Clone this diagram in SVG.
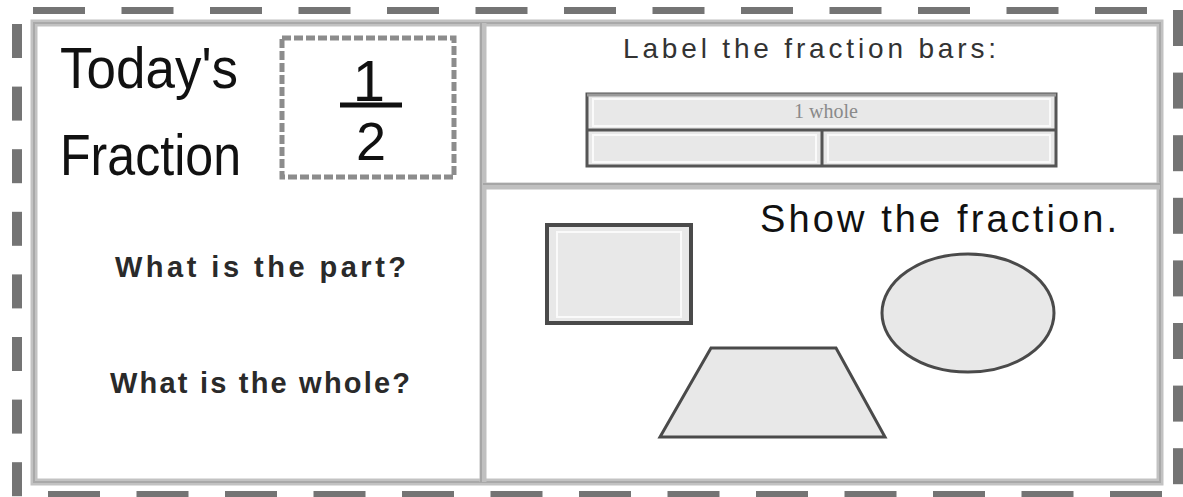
<svg xmlns="http://www.w3.org/2000/svg" width="1183" height="497" viewBox="0 0 1183 497">
<style>
.dash{fill:#747474}
.frame{fill:none;stroke:#c2c2c2;stroke-width:7}
.frameIn{fill:none;stroke:#a9a9a9;stroke-width:2}
.div{stroke:#c0c0c0;stroke-width:7}
.divIn{stroke:#a6a6a6;stroke-width:2}
.hand{font-family:"Liberation Sans","DejaVu Sans",sans-serif;fill:#111}
.q{font-family:"Liberation Sans","DejaVu Sans",sans-serif;fill:#2a2a2a;font-size:29px;font-weight:bold}
.shape{fill:#e8e8e8;stroke:#4a4a4a}
.inset{fill:none;stroke:#fafafa;stroke-width:2}
</style>
<rect width="1183" height="497" fill="#ffffff"/>
<g id="border-dashes">
<rect class="dash" x="33" y="7" width="52" height="7"/>
<rect class="dash" x="121.5" y="7" width="52" height="7"/>
<rect class="dash" x="210" y="7" width="52" height="7"/>
<rect class="dash" x="298.5" y="7" width="52" height="7"/>
<rect class="dash" x="387" y="7" width="52" height="7"/>
<rect class="dash" x="475.5" y="7" width="52" height="7"/>
<rect class="dash" x="564" y="7" width="52" height="7"/>
<rect class="dash" x="652.5" y="7" width="52" height="7"/>
<rect class="dash" x="741" y="7" width="52" height="7"/>
<rect class="dash" x="829.5" y="7" width="52" height="7"/>
<rect class="dash" x="918" y="7" width="52" height="7"/>
<rect class="dash" x="1006.5" y="7" width="52" height="7"/>
<rect class="dash" x="1095" y="7" width="52" height="7"/>
<rect class="dash" x="48" y="491" width="52" height="7"/>
<rect class="dash" x="136.5" y="491" width="52" height="7"/>
<rect class="dash" x="225" y="491" width="52" height="7"/>
<rect class="dash" x="313.5" y="491" width="52" height="7"/>
<rect class="dash" x="402" y="491" width="52" height="7"/>
<rect class="dash" x="490.5" y="491" width="52" height="7"/>
<rect class="dash" x="579" y="491" width="52" height="7"/>
<rect class="dash" x="667.5" y="491" width="52" height="7"/>
<rect class="dash" x="756" y="491" width="52" height="7"/>
<rect class="dash" x="844.5" y="491" width="52" height="7"/>
<rect class="dash" x="933" y="491" width="52" height="7"/>
<rect class="dash" x="1021.5" y="491" width="52" height="7"/>
<rect class="dash" x="1110" y="491" width="52" height="7"/>
<rect class="dash" x="12" y="24" width="10" height="34"/>
<rect class="dash" x="12" y="86.6" width="10" height="34"/>
<rect class="dash" x="12" y="149.2" width="10" height="34"/>
<rect class="dash" x="12" y="211.8" width="10" height="34"/>
<rect class="dash" x="12" y="274.4" width="10" height="34"/>
<rect class="dash" x="12" y="337" width="10" height="34"/>
<rect class="dash" x="12" y="399.6" width="10" height="34"/>
<rect class="dash" x="12" y="462.2" width="10" height="34"/>
<rect class="dash" x="1173" y="10" width="10" height="36"/>
<rect class="dash" x="1173" y="72.6" width="10" height="36"/>
<rect class="dash" x="1173" y="135.2" width="10" height="36"/>
<rect class="dash" x="1173" y="197.8" width="10" height="36"/>
<rect class="dash" x="1173" y="260.4" width="10" height="36"/>
<rect class="dash" x="1173" y="323" width="10" height="36"/>
<rect class="dash" x="1173" y="385.6" width="10" height="36"/>
<rect class="dash" x="1173" y="448.2" width="10" height="36"/>
</g>
<g id="frame">
<rect class="frame" x="34" y="23" width="1126" height="459"/>
<rect class="frameIn" x="34" y="23" width="1126" height="459"/>
<line class="div" x1="483" y1="23" x2="483" y2="482"/>
<line class="divIn" x1="481" y1="23" x2="481" y2="482"/>
<line class="div" x1="483" y1="186" x2="1160" y2="186"/>
<line class="divIn" x1="483" y1="184" x2="1160" y2="184"/>
</g>
<g id="title">
<text class="hand" x="60" y="88" font-size="58" textLength="178" lengthAdjust="spacingAndGlyphs">Today's</text>
<text class="hand" x="60" y="175" font-size="58" textLength="181" lengthAdjust="spacingAndGlyphs">Fraction</text>
</g>
<g id="fraction-box">
<rect x="282" y="38" width="172" height="139" fill="#ffffff" stroke="#8c8c8c" stroke-width="5" stroke-dasharray="9 3"/>
<text class="hand" x="369" y="101" font-size="58" text-anchor="middle">1</text>
<line x1="340" y1="105" x2="402" y2="105" stroke="#111" stroke-width="5"/>
<text class="hand" x="371" y="160" font-size="54" text-anchor="middle">2</text>
</g>
<g id="questions">
<text class="q" x="115" y="277" textLength="291">What is the part?</text>
<text class="q" x="110" y="393" textLength="300">What is the whole?</text>
</g>
<g id="label-bars">
<text x="623" y="58" font-family="'Liberation Sans','DejaVu Sans',sans-serif" font-size="28" fill="#333" textLength="373">Label the fraction bars:</text>
<rect x="587" y="94" width="469" height="72" fill="#e8e8e8"/>
<rect class="inset" x="593" y="99" width="457" height="27"/>
<rect class="inset" x="593" y="135" width="223" height="27"/>
<rect class="inset" x="828" y="135" width="222" height="27"/>
<text x="826" y="118" font-family="'Liberation Serif','DejaVu Serif',serif" font-size="20" fill="#8a8a8a" text-anchor="middle">1 whole</text>
<rect x="587" y="94" width="469" height="72" fill="none" stroke="#555" stroke-width="3"/>
<line x1="587" y1="95" x2="1056" y2="95" stroke="#9a9a9a" stroke-width="3"/>
<line x1="587" y1="130" x2="1056" y2="130" stroke="#555" stroke-width="3"/>
<line x1="822" y1="130" x2="822" y2="166" stroke="#555" stroke-width="3"/>
</g>
<g id="show-fraction">
<text class="hand" x="760" y="232" font-size="38" textLength="357">Show the fraction.</text>
</g>
<g id="rectangle">
<rect class="shape" x="547" y="225" width="144" height="98" stroke-width="4"/>
<rect class="inset" x="557" y="232" width="124" height="85"/>
</g>
<g id="ellipse">
<ellipse class="shape" cx="968" cy="313" rx="86" ry="59" stroke-width="3"/>
</g>
<g id="trapezoid">
<polygon class="shape" points="711,348 836,348 885,437 660,437" stroke-width="3"/>
</g>
</svg>
